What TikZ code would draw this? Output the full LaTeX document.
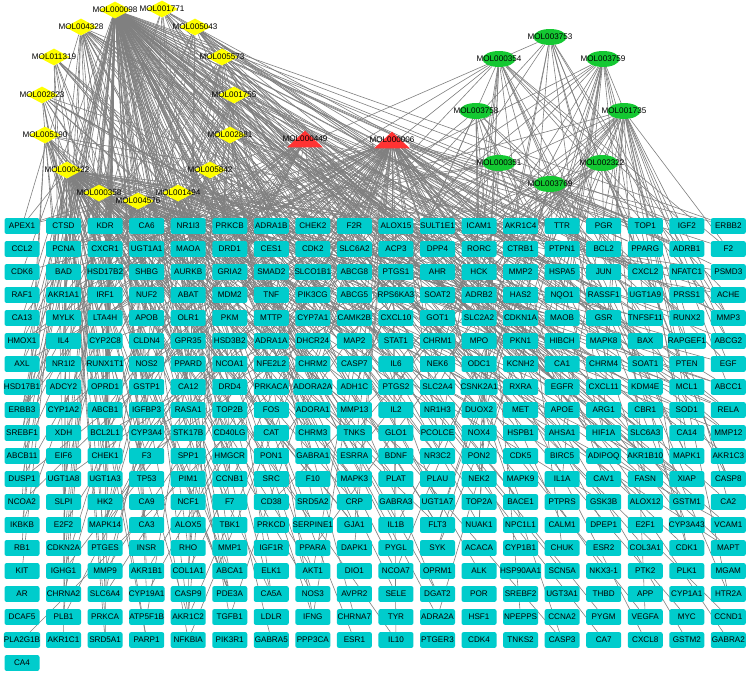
\documentclass[tikz,border=0pt]{standalone}
\usepackage{fontspec}
\setmainfont{Liberation Sans}
\usetikzlibrary{shapes.geometric,backgrounds}
\definecolor{tgc}{RGB}{0,204,204}
\definecolor{ydc}{RGB}{255,255,0}
\definecolor{gec}{RGB}{20,200,50}
\definecolor{redc}{RGB}{255,51,51}
\definecolor{edgec}{RGB}{128,128,128}
\begin{document}
\begin{tikzpicture}[x=0.75pt,y=-0.75pt,
  tg/.style={rectangle, rounded corners=1.5pt, fill=tgc, minimum width=26.25pt, minimum height=11.8pt, inner sep=0pt, font=\fontsize{6.1}{7}\selectfont},
  yd/.style={diamond, fill=ydc, minimum width=24pt, minimum height=12.75pt, inner sep=0pt},
  ge/.style={ellipse, fill=gec, minimum width=24.75pt, minimum height=12pt, inner sep=0pt},
  tri/.style={rectangle, minimum width=26.25pt, minimum height=12pt, inner sep=0pt},
  mlab/.style={font=\fontsize{6.1}{7}\selectfont, inner sep=0pt},
  edge/.style={draw=edgec, line width=0.45pt}]
\useasboundingbox (0,0) rectangle (751,676);
% target grid
\foreach \nm [count=\i from 0] in {APEX1,CTSD,KDR,CA6,NR1I3,PRKCB,ADRA1B,CHEK2,F2R,ALOX15,SULT1E1,ICAM1,AKR1C4,TTR,PGR,TOP1,IGF2,ERBB2,
CCL2,PCNA,CXCR1,UGT1A1,MAOA,DRD1,CES1,CDK2,SLC6A2,ACP3,DPP4,RORC,CTRB1,PTPN1,BCL2,PPARG,ADRB1,F2,
CDK6,BAD,HSD17B2,SHBG,AURKB,GRIA2,SMAD2,SLCO1B1,ABCG8,PTGS1,AHR,HCK,MMP2,HSPA5,JUN,CXCL2,NFATC1,PSMD3,
RAF1,AKR1A1,IRF1,NUF2,ABAT,MDM2,TNF,PIK3CG,ABCG5,RPS6KA3,SOAT2,ADRB2,HAS2,NQO1,RASSF1,UGT1A9,PRSS1,ACHE,
CA13,MYLK,LTA4H,APOB,OLR1,PKM,MTTP,CYP7A1,CAMK2B,CXCL10,GOT1,SLC2A2,CDKN1A,MAOB,GSR,TNFSF11,RUNX2,MMP3,
HMOX1,IL4,CYP2C8,CLDN4,GPR35,HSD3B2,ADRA1A,DHCR24,MAP2,STAT1,CHRM1,MPO,PKN1,HIBCH,MAPK8,BAX,RAPGEF1,ABCG2,
AXL,NR1I2,RUNX1T1,NOS2,PPARD,NCOA1,NFE2L2,CHRM2,CASP7,IL6,NEK6,ODC1,KCNH2,CA1,CHRM4,SOAT1,PTEN,EGF,
HSD17B1,ADCY2,OPRD1,GSTP1,CA12,DRD4,PRKACA,ADORA2A,ADH1C,PTGS2,SLC2A4,CSNK2A1,RXRA,EGFR,CXCL11,KDM4E,MCL1,ABCC1,
ERBB3,CYP1A2,ABCB1,IGFBP3,RASA1,TOP2B,FOS,ADORA1,MMP13,IL2,NR1H3,DUOX2,MET,APOE,ARG1,CBR1,SOD1,RELA,
SREBF1,XDH,BCL2L1,CYP3A4,STK17B,CD40LG,CAT,CHRM3,TNKS,GLO1,PCOLCE,NOX4,HSPB1,AHSA1,HIF1A,SLC6A3,CA14,MMP12,
ABCB11,EIF6,CHEK1,F3,SPP1,HMGCR,PON1,GABRA1,ESRRA,BDNF,NR3C2,PON2,CDK5,BIRC5,ADIPOQ,AKR1B10,MAPK1,AKR1C3,
DUSP1,UGT1A8,UGT1A3,TP53,PIM1,CCNB1,SRC,F10,MAPK3,PLAT,PLAU,NEK2,MAPK9,IL1A,CAV1,FASN,XIAP,CASP8,
NCOA2,SLPI,HK2,CA9,NCF1,F7,CD38,SRD5A2,CRP,GABRA3,UGT1A7,TOP2A,BACE1,PTPRS,GSK3B,ALOX12,GSTM1,CA2,
IKBKB,E2F2,MAPK14,CA3,ALOX5,TBK1,PRKCD,SERPINE1,GJA1,IL1B,FLT3,NUAK1,NPC1L1,CALM1,DPEP1,E2F1,CYP3A43,VCAM1,
RB1,CDKN2A,PTGES,INSR,RHO,MMP1,IGF1R,PPARA,DAPK1,PYGL,SYK,ACACA,CYP1B1,CHUK,ESR2,COL3A1,CDK1,MAPT,
KIT,IGHG1,MMP9,AKR1B1,COL1A1,ABCA1,ELK1,AKT1,DIO1,NCOA7,OPRM1,ALK,HSP90AA1,SCN5A,NKX3-1,PTK2,PLK1,MGAM,
AR,CHRNA2,SLC6A4,CYP19A1,CASP9,PDE3A,CA5A,NOS3,AVPR2,SELE,DGAT2,POR,SREBF2,UGT3A1,THBD,APP,CYP1A1,HTR2A,
DCAF5,PLB1,PRKCA,ATP5F1B,AKR1C2,TGFB1,LDLR,IFNG,CHRNA7,TYR,ADRA2A,HSF1,NPEPPS,CCNA2,PYGM,VEGFA,MYC,CCND1,
PLA2G1B,AKR1C1,SRD5A1,PARP1,NFKBIA,PIK3R1,GABRA5,PPP3CA,ESR1,IL10,PTGER3,CDK4,TNKS2,CASP3,CA7,CXCL8,GSTM2,GABRA2,
CA4}{
  \pgfmathsetmacro\cx{22+41.55*mod(\i,18)}
  \pgfmathsetmacro\cy{226+23*int(\i/18)}
  \node[tg] (t\i) at (\cx,\cy) {\nm};
}
% yellow diamonds
\node[yd, label={[mlab]center:MOL000098}] (m1) at (115,10) {};
\node[yd, label={[mlab]center:MOL001771}] (m2) at (162,9) {};
\node[yd, label={[mlab]center:MOL004328}] (m3) at (81,27) {};
\node[yd, label={[mlab]center:MOL005043}] (m4) at (195,27) {};
\node[yd, label={[mlab]center:MOL011319}] (m5) at (54,57) {};
\node[yd, label={[mlab]center:MOL005573}] (m6) at (222,57) {};
\node[yd, label={[mlab]center:MOL002823}] (m7) at (42,95) {};
\node[yd, label={[mlab]center:MOL001755}] (m8) at (234,95) {};
\node[yd, label={[mlab]center:MOL005190}] (m9) at (45,135) {};
\node[yd, label={[mlab]center:MOL002881}] (m10) at (230,135) {};
\node[yd, label={[mlab]center:MOL000422}] (m11) at (67,170) {};
\node[yd, label={[mlab]center:MOL005842}] (m12) at (210,170) {};
\node[yd, label={[mlab]center:MOL000358}] (m13) at (99,193) {};
\node[yd, label={[mlab]center:MOL004576}] (m14) at (138,201) {};
\node[yd, label={[mlab]center:MOL001494}] (m15) at (178,193) {};
% red triangles
\node[tri] (m16) at (305,139) {};
\fill[redc] (m16.south west) -- (m16.south east) -- (m16.north) -- cycle;
\node[mlab] at (m16) {MOL000449};
\node[tri] (m17) at (392,140) {};
\fill[redc] (m17.south west) -- (m17.south east) -- (m17.north) -- cycle;
\node[mlab] at (m17) {MOL000006};
% green ellipses
\node[ge, label={[mlab]center:MOL003753}] (m18) at (550,37) {};
\node[ge, label={[mlab]center:MOL000354}] (m19) at (499,59) {};
\node[ge, label={[mlab]center:MOL003759}] (m20) at (603,59) {};
\node[ge, label={[mlab]center:MOL003758}] (m21) at (476,111) {};
\node[ge, label={[mlab]center:MOL001735}] (m22) at (624,111) {};
\node[ge, label={[mlab]center:MOL000351}] (m23) at (499,163) {};
\node[ge, label={[mlab]center:MOL002322}] (m24) at (602,163) {};
\node[ge, label={[mlab]center:MOL003769}] (m25) at (550,184) {};
% edges
\begin{scope}[on background layer]
\fill[white] (0,0) rectangle (751,676);
\pgfmathsetseed{7}
\foreach \t in {0,...,342}{
  \pgfmathtruncatemacro\cc{mod(\t,18)}
  \pgfmathtruncatemacro\rr{int(\t/18)}
  \foreach \m/\pl/\pr in {1/0.8/0.5,2/0.1/0.1,3/0.16/0.06,4/0.08/0.08,5/0.08/0.03,6/0.1/0.08,7/0.09/0.04,8/0.08/0.08,9/0.09/0.04,10/0.06/0.06,11/0.4/0.2,12/0.06/0.06,13/0.09/0.04,14/0.12/0.05,15/0.08/0.06,16/0.12/0.12,17/0.35/0.4,18/0.03/0.1,19/0.04/0.12,20/0.03/0.12,21/0.04/0.11,22/0.03/0.12,23/0.04/0.1,24/0.03/0.1,25/0.03/0.09}{
    \pgfmathtruncatemacro\hit{rnd<((\cc<9 ? \pl : \pr)*(1-0.035*\rr))}
    \ifnum\hit=1 \draw[edge] (m\m) -- (t\t);\fi
  }
}
\end{scope}
\end{tikzpicture}
\end{document}
